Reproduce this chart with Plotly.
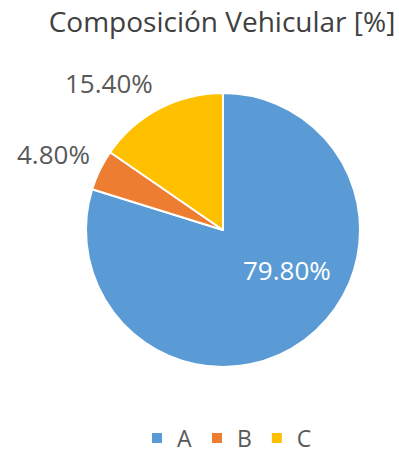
import math
import plotly.graph_objects as go

categories = ["A", "B", "C"]
values = [79.8, 4.8, 15.4]
colors = ["#5B9BD5", "#ED7D31", "#FFC000"]
title_text = "Composición Vehicular [%]"

W, H = 399, 453
cx, cy, r = 223, 230, 137

fig = go.Figure(go.Pie(
    labels=categories,
    values=values,
    sort=False,
    direction="clockwise",
    rotation=0,
    marker=dict(colors=colors, line=dict(color="white", width=2)),
    textinfo="none",
    hoverinfo="label+value",
    domain=dict(x=[(cx - r) / W, (cx + r) / W], y=[1 - (cy + r) / H, 1 - (cy - r) / H]),
))

# data labels placed around the slices (angles derived from the values)
total = sum(values)
cum = 0.0
label_style = {
    # name: (radius factor, angle offset deg, xanchor, yanchor, yshift px, color)
    "A": (0.55, -22, "center", "middle", 0, "white"),
    "B": (1.06, 0, "right", "bottom", -7, "#595959"),
    "C": (1.06, 0, "right", "bottom", -2, "#595959"),
}
for cat, v in zip(categories, values):
    mid = (cum + v / 2) / total * 360.0
    cum += v
    rf, dang, xa, ya, ys, col = label_style[cat]
    a = math.radians(mid + dang)
    px = cx + rf * r * math.sin(a)
    py = cy - rf * r * math.cos(a)
    fig.add_annotation(
        x=px / W, y=1 - py / H, xref="paper", yref="paper",
        text=f"{v:.2f}%", showarrow=False, xanchor=xa, yanchor=ya, yshift=ys,
        font=dict(family="Open Sans", size=26, color=col),
    )

fig.update_layout(
    width=W, height=H,
    margin=dict(l=0, r=0, t=0, b=0, autoexpand=False),
    paper_bgcolor="white",
    title=dict(text=title_text, x=222 / W, xanchor="center", y=1 - 22 / H, yanchor="middle",
               font=dict(family="Open Sans", size=28, color="#404040")),
    legend=dict(orientation="h", x=227 / W, xanchor="center", y=1 - 438 / H, yanchor="middle",
                font=dict(family="Open Sans", size=23, color="#595959"), itemwidth=30),
    showlegend=True,
)

fig.write_html(
    "out.html",
    config={"displayModeBar": False},
    post_script="document.body.style.margin='0';document.body.style.padding='0';",
)
